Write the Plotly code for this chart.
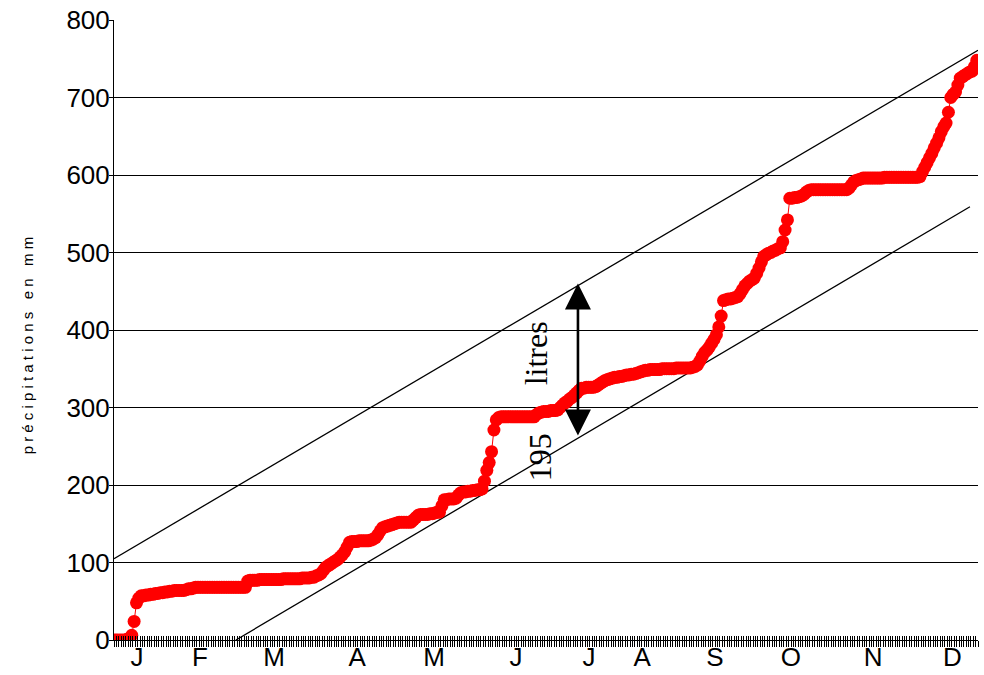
import numpy as np
import plotly.graph_objects as go

# daily rainfall (mm), one list per month
JAN = [0, 0, 0, 0, 0, 1, 1, 4, 18, 24, 6, 3, 0, 1, 0, 1, 0, 1, 0, 1, 0, 1, 0, 1, 0, 1, 0, 0, 0, 0, 1]
FEB = [1, 0, 1, 1, 0, 0, 0, 0, 0, 0, 0, 0, 0, 0, 0, 0, 0, 0, 0, 0, 0, 0, 0, 0, 0, 8, 1, 0]
MAR = [0, 0, 1, 0, 0, 0, 0, 0, 0, 0, 0, 0, 1, 0, 0, 0, 0, 0, 0, 0, 1, 0, 0, 0, 1, 0, 2, 1, 2, 4, 4]
APR = [2, 2, 2, 2, 2, 3, 3, 4, 6, 6, 1, 0, 0, 1, 0, 0, 0, 0, 1, 1, 2, 4, 5, 4, 1, 1, 1, 1, 1, 1]
MAY = [1, 0, 0, 0, 0, 0, 3, 3, 3, 1, 0, 0, 0, 1, 0, 1, 1, 0, 8, 8, 0, 1, 0, 0, 1, 4, 3, 1, 0, 1, 0]
JUN = [1, 0, 1, 0, 1, 10, 14, 10, 14, 28, 13, 3, 1, 0, 0, 0, 0, 0, 0, 0, 0, 0, 0, 0, 0, 0, 0, 3, 2, 1]
JUL = [1, 0, 0, 1, 0, 0, 1, 3, 3, 3, 2, 3, 2, 3, 3, 3, 3, 0, 1, 0, 0, 0, 1, 2, 2, 2, 2, 1, 1, 1, 1]
AUG = [0, 1, 0, 1, 1, 0, 1, 0, 1, 1, 1, 1, 1, 0, 1, 0, 0, 0, 0, 1, 0, 0, 0, 0, 0, 1, 0, 0, 0, 0, 0]
SEP = [0, 1, 1, 2, 5, 6, 5, 3, 4, 5, 5, 6, 10, 14, 20, 1, 1, 0, 1, 1, 1, 4, 5, 5, 3, 3, 2, 2, 6, 7]
OCT = [8, 7, 2, 2, 1, 2, 1, 2, 1, 8, 15, 13, 28, 0, 1, 0, 1, 1, 2, 3, 2, 1, 0, 0, 0, 0, 0, 0, 0, 0, 0]
NOV = [0, 0, 0, 0, 0, 0, 2, 4, 4, 2, 1, 1, 1, 0, 0, 0, 0, 0, 0, 0, 0, 1, 0, 0, 0, 0, 0, 0, 0, 0]
DEC = [0, 0, 0, 0, 0, 0, 1, 6, 6, 6, 6, 6, 7, 6, 7, 8, 6, 5, 14, 19, 4, 3, 9, 9, 2, 2, 2, 2, 1, 6, 8]

MONTH_TICKS = [10.2, 36.8, 68.1, 103.2, 135.7, 170.3, 201.2, 223.6, 254.4, 286.4, 321.2, 354.7]
MONTH_LABELS = ["J", "F", "M", "A", "M", "J", "J", "A", "S", "O", "N", "D"]

# the two parallel guide lines, 195 mm apart
UPPER_DAYS = [0.5, 365.5]
UPPER_MM = [105, 761]
LOWER_DAYS = [52.0, 362.1]
LOWER_MM = [0, 559]

ARROW_DAY = 196.5
ARROW_TOP = 460
ARROW_BOTTOM = 262

daily = JAN + FEB + MAR + APR + MAY + JUN + JUL + AUG + SEP + OCT + NOV + DEC
days = np.arange(1, len(daily) + 1)
cumul = np.cumsum(daily)

SANS = "Arial, Liberation Sans, sans-serif"
SERIF = "Times New Roman, Liberation Serif, serif"

fig = go.Figure()
fig.add_trace(go.Scatter(x=UPPER_DAYS, y=UPPER_MM, mode="lines",
                         line=dict(color="black", width=1.3), showlegend=False))
fig.add_trace(go.Scatter(x=LOWER_DAYS, y=LOWER_MM, mode="lines",
                         line=dict(color="black", width=1.3), showlegend=False))
fig.add_trace(go.Scatter(
    x=days, y=cumul, mode="lines+markers",
    line=dict(color="#ff0000", width=1),
    marker=dict(color="#ff0000", size=13),
    showlegend=False,
))
# empty trace so the second x axis (inner daily ticks) is drawn
fig.add_trace(go.Scatter(x=[], y=[], xaxis="x2", showlegend=False))

fig.add_annotation(x=ARROW_DAY, y=ARROW_TOP, ax=ARROW_DAY, ay=ARROW_BOTTOM,
                   xref="x", yref="y", axref="x", ayref="y", text="",
                   showarrow=True, arrowhead=2, arrowside="end+start",
                   arrowwidth=2.6, arrowsize=2, arrowcolor="black", standoff=0,
                   startstandoff=0)
fig.add_annotation(x=178.8, y=370, xref="x", yref="y", text="litres", textangle=-90,
                   showarrow=False, font=dict(family=SERIF, size=32, color="black"))
fig.add_annotation(x=180.5, y=236, xref="x", yref="y", text="195", textangle=-90,
                   showarrow=False, font=dict(family=SERIF, size=32, color="black"))
fig.add_annotation(x=-0.1123, y=0.476, xref="paper", yref="paper",
                   text="p r é c i p i t a t i o n s   e n   m m", textangle=-90,
                   showarrow=False, font=dict(family=SANS, size=15, color="black"))

fig.update_layout(
    width=984, height=675,
    margin=dict(l=114, r=6, t=20, b=35),
    paper_bgcolor="white", plot_bgcolor="white",
    font=dict(family=SANS, size=26, color="black"),
    xaxis=dict(
        range=[0.5, 365.5], tickmode="array", tickvals=MONTH_TICKS, ticktext=MONTH_LABELS,
        ticks="", showgrid=False, zeroline=False, automargin=False,
        ticklabelstandoff=-6, ticklabeloverflow="allow",
        showline=True, linecolor="black", linewidth=1,
        minor=dict(tickmode="linear", tick0=0.5, dtick=1, ticks="outside",
                   ticklen=6, tickcolor="black", tickwidth=1, showgrid=False),
    ),
    xaxis2=dict(
        range=[0.5, 365.5], overlaying="x", anchor="y", side="bottom",
        tickmode="linear", tick0=0.5, dtick=1, ticks="inside", ticklen=4,
        tickcolor="black", tickwidth=1, showticklabels=False, showgrid=False,
        zeroline=False, showline=False, automargin=False,
    ),
    yaxis=dict(
        range=[0, 800], dtick=100, ticks="outside", ticklen=4, tickcolor="black",
        showgrid=True, gridcolor="black", gridwidth=1, zeroline=False, automargin=False,
        ticklabelstandoff=-6, ticklabeloverflow="allow",
        showline=True, linecolor="black", linewidth=1,
    ),
)

# drop the page's default 8px body margin so the figure sits at the corner
fig.write_html("out.html", config={"displayModeBar": False},
               post_script="document.body.style.margin = '0';")
